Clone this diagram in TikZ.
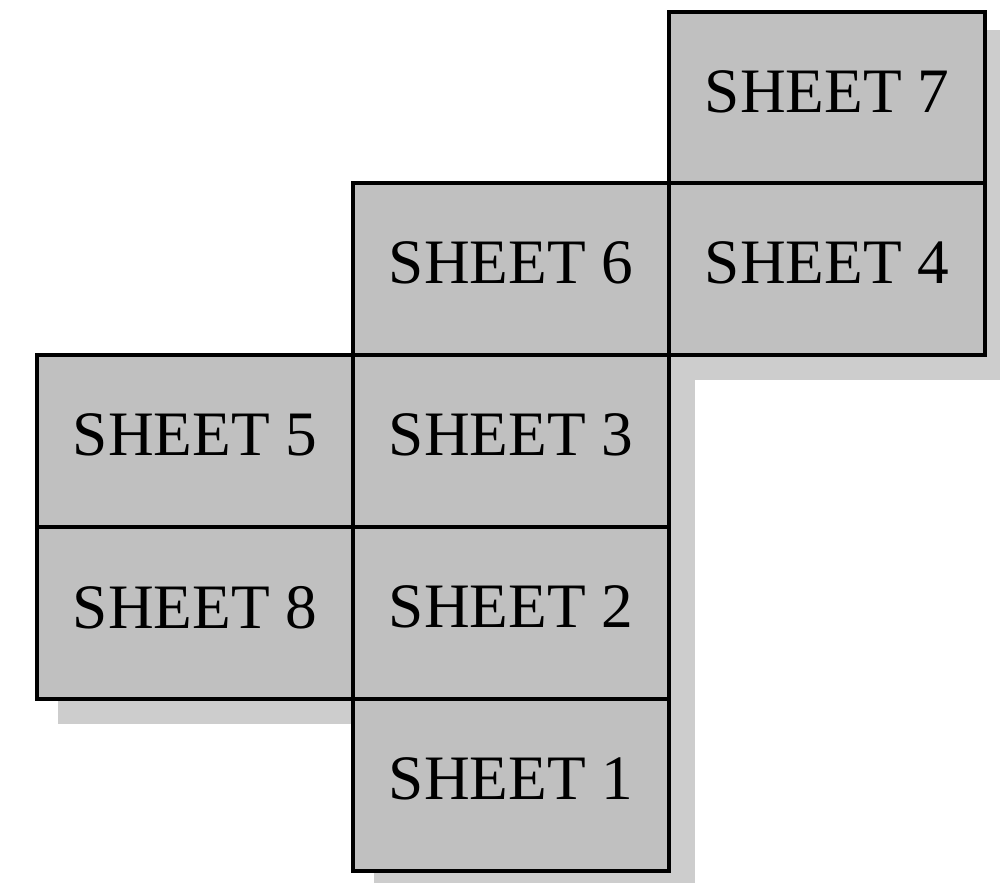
\documentclass[tikz,border=0pt]{standalone}
\usepackage{fontspec}
\setmainfont{Liberation Serif}
\definecolor{sheetfill}{HTML}{C0C0C0}
\definecolor{shadowgray}{HTML}{CDCDCD}
\begin{document}
\begin{tikzpicture}[x=0.01cm,y=-0.01cm,
  sheetbox/.style={draw=black, fill=sheetfill, line width=0.04cm,
    minimum width=3.16cm, minimum height=1.72cm, inner sep=0pt,
    text depth=0.12cm, font=\fontsize{18}{22}\selectfont, anchor=north west},
  shadowbox/.style={fill=shadowgray, draw=none}]
\useasboundingbox (0,0) rectangle (1000,883);
% shadows
\fill[shadowgray] (666+23,10+20) rectangle (983+28,353+27);
\fill[shadowgray] (351+23,181+20) rectangle (667+28,869+27);
\fill[shadowgray] (35+23,353+20) rectangle (351+28,697+27);
% sheets
\node[sheetbox] (s7) at (667,10) {SHEET 7};
\node[sheetbox] (s4) at (667,181) {SHEET 4};
\node[sheetbox] (s6) at (351,181) {SHEET 6};
\node[sheetbox] (s5) at (35,353) {SHEET 5};
\node[sheetbox] (s3) at (351,353) {SHEET 3};
\node[sheetbox] (s8) at (35,525) {SHEET 8};
\node[sheetbox] (s2) at (351,525) {SHEET 2};
\node[sheetbox] (s1) at (351,697) {SHEET 1};
\end{tikzpicture}
\end{document}
